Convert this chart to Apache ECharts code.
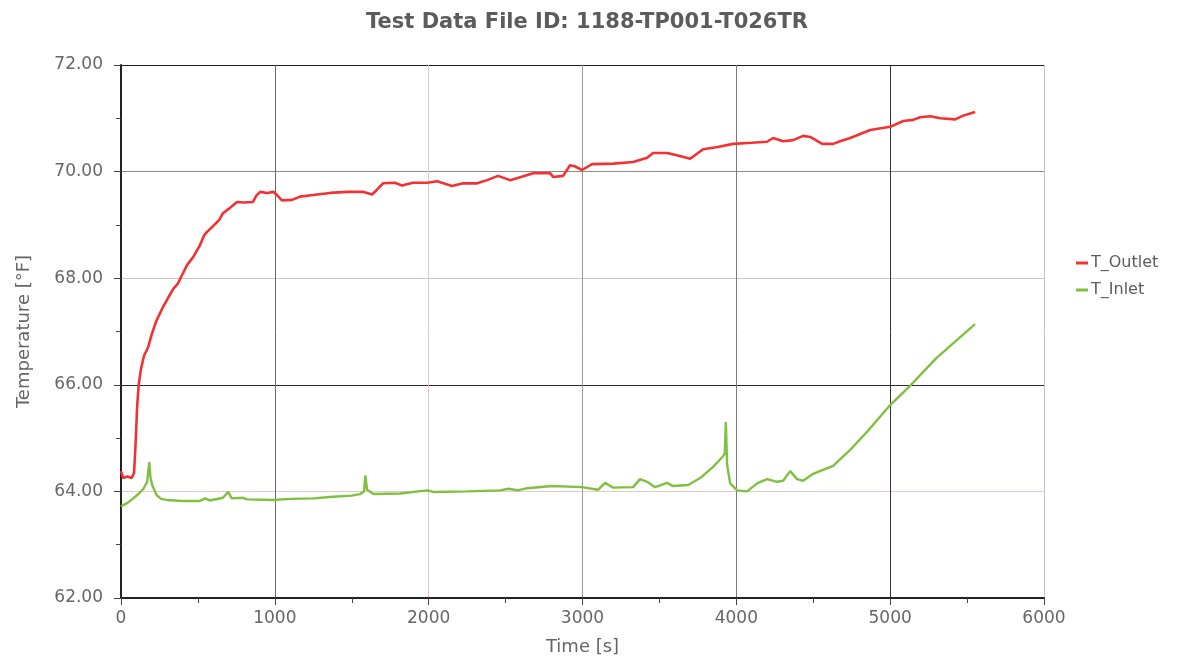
<!DOCTYPE html>
<html>
<head>
<meta charset="utf-8">
<script src="https://cdn.jsdelivr.net/npm/echarts@6/dist/echarts.min.js"></script>
<style>
  html, body { margin: 0; padding: 0; background: #ffffff; }
  #chart { width: 1179px; height: 666px; }
</style>
</head>
<body>
<div id="chart"></div>
<script>
// Outlet temperature record: time [s] and temperature [°F]
const outletTime = [0, 15, 40, 70, 85, 95, 105, 115, 130, 150, 176, 200, 230, 273, 300, 340, 370, 397, 430, 470, 510, 540, 559, 600, 640, 663, 700, 754, 800, 858, 880, 904, 950, 990, 1014, 1046, 1112, 1164, 1248, 1359, 1469, 1573, 1632, 1664, 1703, 1781, 1827, 1898, 1990, 2055, 2152, 2224, 2315, 2380, 2451, 2529, 2600, 2679, 2789, 2809, 2874, 2919, 2950, 2997, 3062, 3200, 3329, 3420, 3459, 3550, 3620, 3700, 3784, 3880, 3979, 4100, 4200, 4239, 4304, 4369, 4434, 4480, 4558, 4629, 4675, 4740, 4870, 5000, 5085, 5150, 5195, 5260, 5325, 5423, 5475, 5552];
const outletTemp = [64.38, 64.25, 64.28, 64.25, 64.35, 64.9, 65.6, 66.0, 66.3, 66.55, 66.7, 66.95, 67.2, 67.46, 67.6, 67.8, 67.9, 68.06, 68.25, 68.4, 68.6, 68.8, 68.87, 68.98, 69.1, 69.22, 69.3, 69.43, 69.42, 69.43, 69.55, 69.62, 69.6, 69.62, 69.56, 69.46, 69.47, 69.53, 69.56, 69.6, 69.62, 69.62, 69.57, 69.66, 69.78, 69.79, 69.74, 69.79, 69.79, 69.82, 69.73, 69.78, 69.78, 69.84, 69.92, 69.84, 69.9, 69.97, 69.97, 69.9, 69.92, 70.12, 70.1, 70.03, 70.14, 70.15, 70.18, 70.26, 70.35, 70.35, 70.3, 70.24, 70.42, 70.46, 70.52, 70.54, 70.56, 70.63, 70.57, 70.59, 70.67, 70.65, 70.52, 70.52, 70.57, 70.63, 70.78, 70.84, 70.95, 70.97, 71.02, 71.04, 71.0, 70.98, 71.05, 71.12];

// Inlet temperature record: time [s] and temperature [°F]
const inletTime = [0, 40, 80, 120, 146, 170, 178, 184, 192, 205, 232, 260, 296, 400, 513, 546, 578, 663, 696, 720, 793, 820, 990, 1100, 1250, 1378, 1500, 1554, 1580, 1588, 1600, 1641, 1814, 1990, 2030, 2250, 2464, 2520, 2580, 2640, 2802, 2997, 3101, 3147, 3200, 3329, 3374, 3420, 3472, 3550, 3589, 3687, 3765, 3849, 3914, 3925, 3932, 3940, 3960, 4005, 4070, 4135, 4200, 4265, 4304, 4350, 4395, 4434, 4499, 4629, 4740, 4850, 5000, 5136, 5300, 5450, 5552];
const inletTemp = [63.72, 63.78, 63.87, 63.97, 64.05, 64.18, 64.2, 64.55, 64.25, 64.1, 63.93, 63.86, 63.84, 63.82, 63.82, 63.87, 63.83, 63.88, 63.99, 63.87, 63.88, 63.85, 63.84, 63.86, 63.87, 63.9, 63.92, 63.95, 64.0, 64.3, 64.03, 63.95, 63.96, 64.02, 63.99, 64.0, 64.02, 64.05, 64.02, 64.06, 64.1, 64.08, 64.03, 64.16, 64.07, 64.08, 64.23, 64.18, 64.08, 64.16, 64.1, 64.12, 64.25, 64.46, 64.66, 64.72, 65.3, 64.5, 64.15, 64.02, 64.0, 64.15, 64.23, 64.18, 64.2, 64.38, 64.23, 64.2, 64.33, 64.48, 64.78, 65.12, 65.62, 66.0, 66.5, 66.88, 67.14];

const seriesNames = ['T_Outlet', 'T_Inlet'];
const chartTitle = 'Test Data File ID: 1188-TP001-T026TR';
const xAxisName = 'Time [s]';
const yAxisName = 'Temperature [°F]';

function pairs(xs, ys) {
  return xs.map((x, i) => [x, ys[i]]);
}

const FONT = 'DejaVu Sans';
const chart = echarts.init(document.getElementById('chart'), null, { renderer: 'canvas' });

chart.setOption({
  animation: false,
  backgroundColor: '#ffffff',
  title: {
    text: chartTitle,
    left: 582,
    textAlign: 'center',
    top: 7,
    textStyle: { fontFamily: FONT, fontSize: 21, fontWeight: 'bold', color: '#5c5c5c' }
  },
  legend: {
    orient: 'vertical',
    left: 1071,
    top: 250,
    itemGap: 11,
    itemWidth: 12,
    itemHeight: 3,
    icon: 'rect',
    data: seriesNames,
    textStyle: { fontFamily: FONT, fontSize: 16, color: '#5c5c5c', padding: [0, 0, 0, -2] }
  },
  grid: { left: 121, right: 135, top: 65, bottom: 68, containLabel: false },
  xAxis: {
    type: 'value',
    min: 0,
    max: 6000,
    interval: 1000,
    name: xAxisName,
    nameLocation: 'middle',
    nameGap: 40,
    nameTextStyle: { fontFamily: FONT, fontSize: 18, color: '#666666' },
    axisLine: { show: true, onZero: false, lineStyle: { color: '#222222', width: 2 } },
    axisTick: { show: true, length: 7, lineStyle: { color: '#444444', width: 1 } },
    minorTick: { show: true, splitNumber: 2, length: 5, lineStyle: { color: '#444444' } },
    axisLabel: {
      margin: 12,
      fontFamily: FONT,
      fontSize: 17,
      color: '#666666',
      formatter: v => String(v)
    },
    splitLine: {
      show: true,
      showMinLine: true,
      showMaxLine: true,
      lineStyle: {
        color: ['#bbbbbb', '#6a6a6a', '#e6c6c6', '#9a9a9a', '#7a7a7a', '#333333', '#c4c4c4'],
        width: 1
      }
    }
  },
  yAxis: {
    type: 'value',
    min: 62,
    max: 72,
    interval: 2,
    name: yAxisName,
    nameLocation: 'middle',
    nameGap: 88,
    nameTextStyle: { fontFamily: FONT, fontSize: 18, color: '#666666' },
    axisLine: { show: true, onZero: false, lineStyle: { color: '#222222', width: 2 } },
    axisTick: { show: true, length: 7, lineStyle: { color: '#444444', width: 1 } },
    minorTick: { show: true, splitNumber: 2, length: 5, lineStyle: { color: '#444444' } },
    axisLabel: {
      margin: 18,
      fontFamily: FONT,
      fontSize: 17,
      color: '#666666',
      formatter: v => v.toFixed(2)
    },
    splitLine: {
      show: true,
      showMinLine: true,
      showMaxLine: true,
      lineStyle: {
        color: ['#bbbbbb', '#e8c8c8', '#2a2a2a', '#c8c8c8', '#8a8a8a', '#1e1e1e'],
        width: 1
      }
    }
  },
  series: [
    {
      name: seriesNames[0],
      type: 'line',
      data: pairs(outletTime, outletTemp),
      showSymbol: false,
      symbol: 'none',
      color: '#f23232',
      lineStyle: { color: '#f23232', width: 2.6 },
      z: 3
    },
    {
      name: seriesNames[1],
      type: 'line',
      data: pairs(inletTime, inletTemp),
      showSymbol: false,
      symbol: 'none',
      color: '#80c040',
      lineStyle: { color: '#80c040', width: 2.4 },
      z: 3
    }
  ]
});
</script>
</body>
</html>
